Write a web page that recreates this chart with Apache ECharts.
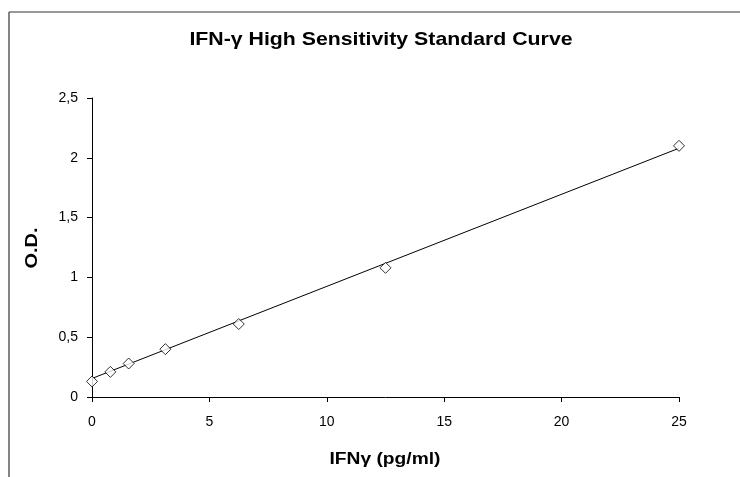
<!DOCTYPE html>
<html>
<head>
<meta charset="utf-8">
<script src="https://cdn.jsdelivr.net/npm/echarts@6/dist/echarts.min.js"></script>
<style>
html,body{margin:0;padding:0;background:#fff;}
#chart{width:740px;height:477px;}
</style>
</head>
<body>
<div id="chart"></div>
<script>
// Data
var concentrations = [0, 0.78125, 1.5625, 3.125, 6.25, 12.5, 25];
var odValues = [0.13, 0.21, 0.28, 0.40, 0.61, 1.08, 2.10];
// Linear trend line endpoints (as drawn in the picture)
var trendX = [0, 25];
var trendY = [0.155, 2.08];
var titleText = 'IFN-\u03b3 High Sensitivity Standard Curve';
var xAxisName = 'IFN\u03b3 (pg/ml)';
var yAxisName = 'O.D.';

var FONT = 'Arial, "Liberation Sans", sans-serif';
var chart = echarts.init(document.getElementById('chart'));
var pointData = concentrations.map(function (x, i) { return [x, odValues[i]]; });
var trendData = trendX.map(function (x, i) { return [x, trendY[i]]; });
function comma(v) { return String(v).replace('.', ','); }

chart.setOption({
  animation: false,
  backgroundColor: '#fff',
  grid: { left: 92, right: 61, top: 98, bottom: 80 },
  graphic: [
    { type: 'line', shape: { x1: 9, y1: 12, x2: 740, y2: 12 }, style: { stroke: '#333', lineWidth: 1.2 } },
    { type: 'line', shape: { x1: 9, y1: 12, x2: 9, y2: 477 }, style: { stroke: '#333', lineWidth: 1.2 } },
    { type: 'text', x: 381, y: 40, scaleX: 1.12, style: { text: titleText, font: 'bold 19px ' + FONT, fill: '#000', textAlign: 'center', textVerticalAlign: 'middle' } },
    { type: 'text', x: 385, y: 460, scaleX: 1.2, style: { text: xAxisName, font: 'bold 16px ' + FONT, fill: '#000', textAlign: 'center', textVerticalAlign: 'middle' } },
    { type: 'text', x: 33, y: 248, rotation: Math.PI / 2, scaleX: 1.25, style: { text: yAxisName, font: 'bold 16px ' + FONT, fill: '#000', textAlign: 'center', textVerticalAlign: 'middle' } }
  ],
  xAxis: {
    type: 'value', min: 0, max: 25, interval: 5,
    axisLine: { lineStyle: { color: '#000', width: 1 } },
    axisTick: { inside: false, length: 5, lineStyle: { color: '#000' } },
    axisLabel: { margin: 18, fontFamily: FONT, fontSize: 14, color: '#000', formatter: comma },
    splitLine: { show: false }
  },
  yAxis: {
    type: 'value', min: 0, max: 2.5, interval: 0.5,
    axisLine: { show: true, lineStyle: { color: '#000', width: 1 } },
    axisTick: { show: true, inside: false, length: 5, lineStyle: { color: '#000' } },
    axisLabel: { margin: 14, fontFamily: FONT, fontSize: 14, color: '#000', formatter: comma },
    splitLine: { show: false }
  },
  series: [
    {
      type: 'line', data: trendData, showSymbol: false, symbol: 'none',
      lineStyle: { color: '#000', width: 1 }, z: 2, silent: true
    },
    {
      type: 'scatter', data: pointData, symbol: 'diamond', symbolSize: 11,
      itemStyle: { color: '#fff', borderColor: '#000', borderWidth: 1 }, z: 3
    }
  ]
});
</script>
</body>
</html>
